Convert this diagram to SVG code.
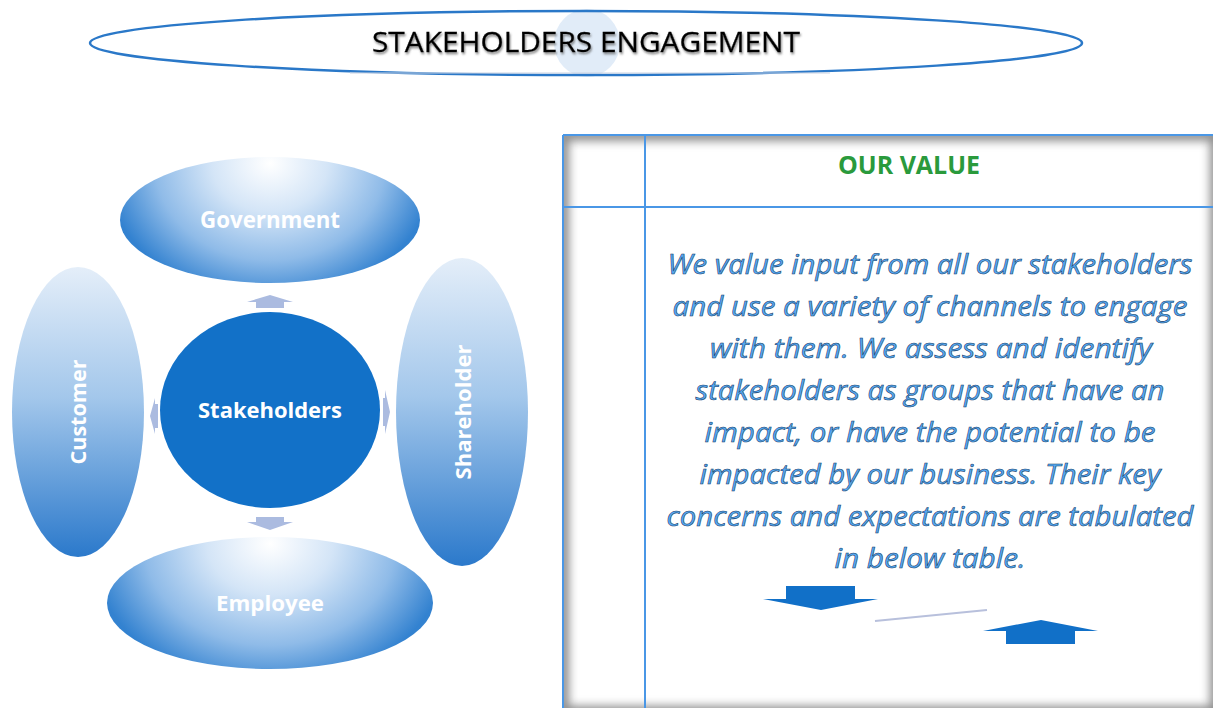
<svg xmlns="http://www.w3.org/2000/svg" width="1213" height="708" viewBox="0 0 1213 708">
  <style>
    .label { font-family: "Open Sans", "Liberation Sans", sans-serif; font-weight: 700; fill: #ffffff; text-anchor: middle; }
    .title { font-family: "Open Sans", "Liberation Sans", sans-serif; font-size: 28px; fill: #000000; stroke: #000000; stroke-width: 0.3; text-anchor: middle; }
    .heading { font-family: "Open Sans", "Liberation Sans", sans-serif; font-size: 25px; font-weight: 700; fill: #2a9a3c; text-anchor: middle; }
    .body { font-family: "Open Sans", "Liberation Sans", sans-serif; font-size: 27px; font-style: italic; fill: #55aaf5; stroke: #163a66; stroke-width: 0.55; text-anchor: middle; }
    .link { fill: #abbbe0; }
    .bigArrow { fill: #1170c8; }
    .rule { stroke: #4a97e6; stroke-width: 2; fill: none; }
  </style>
  <defs>
    <radialGradient id="wideGrad" cx="0.5" cy="0.05" r="1" gradientTransform="translate(0.5 0.05) scale(0.55 1.1) translate(-0.5 -0.05)">
      <stop offset="0" stop-color="#ffffff"/>
      <stop offset="0.35" stop-color="#d4e5f7"/>
      <stop offset="0.7" stop-color="#8fbbe8"/>
      <stop offset="1" stop-color="#3382d0"/>
    </radialGradient>
    <linearGradient id="tallGrad" x1="0" y1="0" x2="0" y2="1">
      <stop offset="0" stop-color="#e4eef9"/>
      <stop offset="0.45" stop-color="#a3c7eb"/>
      <stop offset="1" stop-color="#2b79cb"/>
    </linearGradient>
    <clipPath id="panelClip">
      <rect x="563" y="135" width="653" height="577"/>
    </clipPath>
    <filter id="soft" x="-5%" y="-5%" width="110%" height="110%">
      <feGaussianBlur stdDeviation="5"/>
    </filter>
    <filter id="textShadow" x="-5%" y="-30%" width="110%" height="160%">
      <feDropShadow dx="1" dy="2" stdDeviation="1.2" flood-color="#555555" flood-opacity="0.7"/>
    </filter>
  </defs>

  <rect width="1213" height="708" fill="#ffffff"/>

  <!-- title banner -->
  <g id="title">
    <ellipse cx="587" cy="43" rx="33" ry="34" fill="#dce9f7" opacity="0.85"/>
    <ellipse cx="586" cy="43" rx="496" ry="32" fill="none" stroke="#2a78c8" stroke-width="2.5"/>
    <line x1="350" y1="73" x2="830" y2="73" stroke="#c9d2e2" stroke-width="1"/>
    <text class="title" x="586" y="52" textLength="428" lengthAdjust="spacingAndGlyphs" filter="url(#textShadow)">STAKEHOLDERS ENGAGEMENT</text>
  </g>

  <!-- stakeholder groups -->
  <g id="government">
    <ellipse cx="270" cy="220" rx="150" ry="63" fill="url(#wideGrad)"/>
    <text class="label" x="270" y="228" font-size="23" textLength="140" lengthAdjust="spacingAndGlyphs">Government</text>
  </g>
  <g id="customer">
    <ellipse cx="78" cy="412" rx="66" ry="145" fill="url(#tallGrad)"/>
    <text class="label" transform="translate(86 412) rotate(-90)" x="0" y="0" font-size="22" textLength="105" lengthAdjust="spacingAndGlyphs">Customer</text>
  </g>
  <g id="shareholder">
    <ellipse cx="462" cy="412" rx="66" ry="154" fill="url(#tallGrad)"/>
    <text class="label" transform="translate(471 412) rotate(-90)" x="0" y="0" font-size="22" textLength="135" lengthAdjust="spacingAndGlyphs">Shareholder</text>
  </g>
  <g id="employee">
    <ellipse cx="270" cy="603" rx="163" ry="66" fill="url(#wideGrad)"/>
    <text class="label" x="270" y="611" font-size="22" textLength="108" lengthAdjust="spacingAndGlyphs">Employee</text>
  </g>
  <g id="stakeholders">
    <ellipse cx="270" cy="410" rx="110" ry="98" fill="#1271c8"/>
    <text class="label" x="270" y="418" font-size="22" textLength="144" lengthAdjust="spacingAndGlyphs">Stakeholders</text>
  </g>

  <!-- connectors between the hub and the groups -->
  <g id="connectors">
    <polygon class="link" points="270,295 293,302 284,302 284,308 256,308 256,302 247,302"/>
    <polygon class="link" points="256,517 284,517 284,522 293,522 270,530 247,522 256,522"/>
    <polygon class="link" points="150,416 155,398 155,404 158,404 158,428 155,428 155,434"/>
    <polygon class="link" points="390,412 385,390 385,398 383,398 383,426 385,426 385,434"/>
  </g>

  <!-- value statement panel -->
  <g id="value-panel">
    <rect x="563" y="135" width="653" height="577" fill="#ffffff"/>
    <g clip-path="url(#panelClip)">
      <rect x="563" y="135" width="653" height="577" fill="none" stroke="#8c8c8c" stroke-width="12" filter="url(#soft)"/>
    </g>
    <line class="rule" x1="563" y1="135" x2="1213" y2="135"/>
    <line class="rule" x1="563" y1="135" x2="563" y2="708" stroke="#2a74cf"/>
    <line class="rule" x1="645" y1="135" x2="645" y2="708" stroke="#2a74cf"/>
    <line class="rule" x1="563" y1="207" x2="1213" y2="207"/>
    <text class="heading" x="909" y="174" textLength="142" lengthAdjust="spacingAndGlyphs">OUR VALUE</text>
    <text class="body" x="930" y="274" textLength="525" lengthAdjust="spacingAndGlyphs">We value input from all our stakeholders</text>
    <text class="body" x="930" y="316" textLength="515" lengthAdjust="spacingAndGlyphs">and use a variety of channels to engage</text>
    <text class="body" x="931" y="358" textLength="442" lengthAdjust="spacingAndGlyphs">with them. We assess and identify</text>
    <text class="body" x="930" y="400" textLength="469" lengthAdjust="spacingAndGlyphs">stakeholders as groups that have an</text>
    <text class="body" x="930" y="442" textLength="451" lengthAdjust="spacingAndGlyphs">impact, or have the potential to be</text>
    <text class="body" x="930" y="484" textLength="461" lengthAdjust="spacingAndGlyphs">impacted by our business. Their key</text>
    <text class="body" x="930" y="526" textLength="527" lengthAdjust="spacingAndGlyphs">concerns and expectations are tabulated</text>
    <text class="body" x="930" y="568" textLength="191" lengthAdjust="spacingAndGlyphs">in below table.</text>
    <polygon class="bigArrow" points="786,586 855,586 855,599 878,599 821,610 763,599 786,599"/>
    <line x1="875" y1="621" x2="987" y2="610" stroke="#b8c0dc" stroke-width="2"/>
    <polygon class="bigArrow" points="1041,620 1098,631 1075,631 1075,644 1006,644 1006,631 983,631"/>
  </g>
</svg>
